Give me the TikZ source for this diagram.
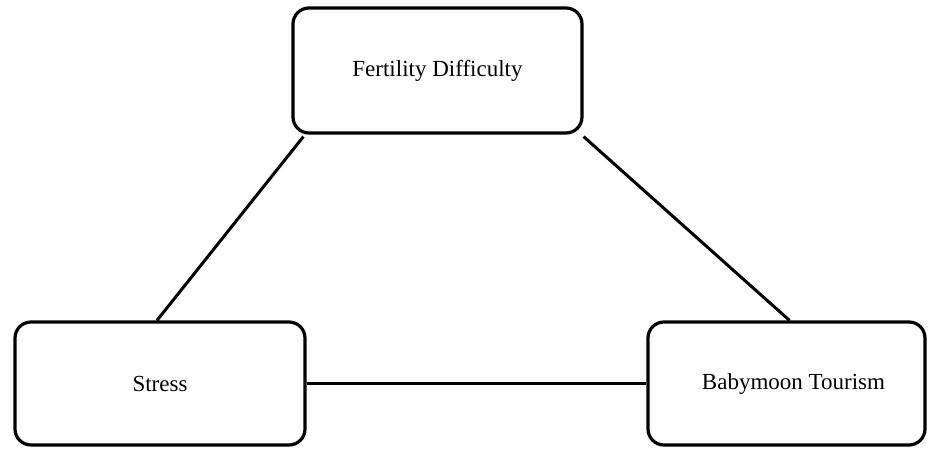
\documentclass[tikz,border=0pt]{standalone}
\usepackage{fontspec}
\setmainfont{Liberation Serif}
\begin{document}
\begin{tikzpicture}[x=1pt,y=-1pt,
  box/.style={draw=black, line width=3.2pt, rounded corners=16pt, fill=white,
    inner sep=0pt, font=\fontsize{23}{27}\selectfont},
  link/.style={draw=black, line width=3pt}]
  \useasboundingbox (0,0) rectangle (930,448);
  \node[box, minimum width=289pt, minimum height=125pt] (fert) at (437.5,70.5) {Fertility Difficulty};
  \node[box, minimum width=290pt, minimum height=123pt] (stress) at (160,383.5) {Stress};
  \node[box, minimum width=277pt, minimum height=123pt] (baby) at (786.5,383.5) {\hspace*{14pt}Babymoon Tourism};
  \draw[link] ([xshift=12pt,yshift=-2pt]fert.south west) -- ([xshift=-3pt]stress.north);
  \draw[link] ([yshift=-2pt]fert.south east) -- ([xshift=3pt]baby.north);
  \draw[link] (stress.east) -- (baby.west);
\end{tikzpicture}
\end{document}
